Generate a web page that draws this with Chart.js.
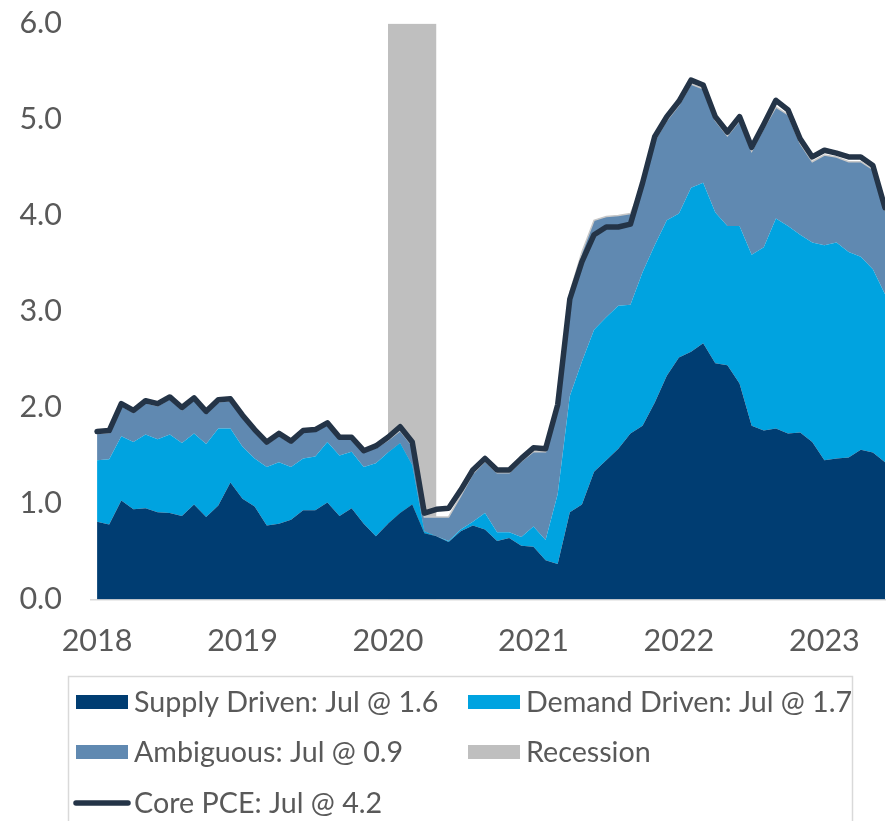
<!DOCTYPE html>
<html><head><meta charset="utf-8">
<script src="https://cdn.jsdelivr.net/npm/chart.js@4.4.1/dist/chart.umd.min.js"></script>
<style>html,body{margin:0;padding:0;background:#fff;}canvas{display:block}</style>
</head><body>
<canvas id="c" width="888" height="821"></canvas>
<script>
const months = [
 '2018-01','2018-02','2018-03','2018-04','2018-05','2018-06','2018-07','2018-08','2018-09','2018-10','2018-11','2018-12',
 '2019-01','2019-02','2019-03','2019-04','2019-05','2019-06','2019-07','2019-08','2019-09','2019-10','2019-11','2019-12',
 '2020-01','2020-02','2020-03','2020-04','2020-05','2020-06','2020-07','2020-08','2020-09','2020-10','2020-11','2020-12',
 '2021-01','2021-02','2021-03','2021-04','2021-05','2021-06','2021-07','2021-08','2021-09','2021-10','2021-11','2021-12',
 '2022-01','2022-02','2022-03','2022-04','2022-05','2022-06','2022-07','2022-08','2022-09','2022-10','2022-11','2022-12',
 '2023-01','2023-02','2023-03','2023-04','2023-05','2023-06'];
const yearTickLabels = ['2018','2019','2020','2021','2022','2023'];
const yTickLabels = ['0.0','1.0','2.0','3.0','4.0','5.0','6.0'];

const supply = [0.81,0.78,1.03,0.94,0.95,0.91,0.90,0.87,0.99,0.86,0.98,1.22,
 1.05,0.97,0.77,0.79,0.83,0.93,0.93,1.01,0.87,0.95,0.79,0.66,
 0.79,0.90,0.99,0.69,0.66,0.60,0.71,0.77,0.73,0.61,0.64,0.56,
 0.55,0.41,0.37,0.91,0.99,1.33,1.45,1.57,1.73,1.81,2.05,2.33,
 2.52,2.58,2.67,2.46,2.44,2.25,1.81,1.76,1.78,1.73,1.74,1.64,
 1.45,1.47,1.48,1.56,1.53,1.43];
const demand = [0.64,0.68,0.67,0.70,0.77,0.76,0.82,0.76,0.74,0.76,0.80,0.56,
 0.54,0.50,0.61,0.64,0.55,0.54,0.56,0.63,0.63,0.59,0.59,0.76,
 0.74,0.73,0.41,0.02,0.00,0.01,0.02,0.04,0.17,0.09,0.06,0.09,
 0.21,0.21,0.73,1.21,1.49,1.48,1.49,1.49,1.34,1.60,1.64,1.62,
 1.50,1.71,1.67,1.57,1.45,1.64,1.78,1.91,2.19,2.16,2.06,2.08,
 2.24,2.25,2.14,2.01,1.91,1.75];
const ambiguous = [0.28,0.28,0.32,0.31,0.33,0.35,0.37,0.35,0.35,0.32,0.28,0.29,
 0.31,0.28,0.24,0.28,0.25,0.28,0.27,0.18,0.18,0.14,0.16,0.16,
 0.13,0.13,0.20,0.15,0.20,0.25,0.35,0.50,0.54,0.62,0.62,0.79,
 0.78,0.92,0.90,1.08,1.14,1.14,1.05,0.94,0.95,0.91,1.09,1.04,
 1.13,1.08,0.98,0.96,0.94,1.10,1.08,1.24,1.16,1.16,0.95,0.84,
 0.94,0.89,0.94,0.99,1.04,0.87];
const corePCE = [1.75,1.76,2.04,1.97,2.07,2.04,2.11,2.00,2.10,1.96,2.08,2.09,
 1.92,1.77,1.64,1.73,1.65,1.76,1.77,1.84,1.69,1.69,1.55,1.60,
 1.69,1.80,1.64,0.90,0.94,0.95,1.14,1.35,1.47,1.35,1.35,1.47,
 1.58,1.57,2.03,3.13,3.52,3.80,3.88,3.88,3.91,4.34,4.82,5.03,
 5.19,5.41,5.36,5.03,4.87,5.03,4.71,4.95,5.20,5.10,4.80,4.61,
 4.68,4.65,4.61,4.61,4.52,4.08];
const recessionSpan = ['2020-01','2020-05'];
const recessionLevel = 6;

const seriesLabels = ['Supply Driven: Jul @ 1.6','Demand Driven: Jul @ 1.7','Ambiguous: Jul @ 0.9','Core PCE: Jul @ 4.2','Recession'];
const colors = {supply:'#003D72', demand:'#00A3E0', ambiguous:'#6089B1', pce:'#243447', recession:'#BFBFBF'};

const pts = arr => arr.map((v,i) => ({x:i, y:v}));
const yearTickValues = yearTickLabels.map(y => months.indexOf(y + '-01'));
const FONT = 'Lato';

const boxLegend = {
  id: 'boxLegend',
  afterDraw(chart) {
    const ctx = chart.ctx;
    const ds = chart.data.datasets;
    ctx.save();
    ctx.strokeStyle = '#D9D9D9';
    ctx.lineWidth = 1.5;
    ctx.strokeRect(68.5, 676.5, 784, 170);
    ctx.font = '28.7px ' + FONT;
    ctx.textBaseline = 'middle';
    ctx.textAlign = 'left';
    const slots = [[0,76,702],[1,468,702],[2,76,752],[4,468,752],[3,76,803]];
    slots.forEach(([di,x,y]) => {
      const d = ds[di];
      if (d.type === 'line' && d.fill === false) {
        ctx.strokeStyle = d.borderColor;
        ctx.lineWidth = 5.5;
        ctx.lineCap = 'round';
        ctx.beginPath(); ctx.moveTo(76, y); ctx.lineTo(128, y); ctx.stroke();
      } else {
        ctx.fillStyle = d.backgroundColor;
        ctx.fillRect(x, y - 7, 52, 14);
      }
      ctx.fillStyle = '#595959';
      ctx.fillText(d.label, x + 58, y + 1);
    });
    ctx.restore();
  }
};

new Chart(document.getElementById('c'), {
  type: 'line',
  data: {
    datasets: [
      {label: seriesLabels[0], type:'line', data: pts(supply), backgroundColor: colors.supply, borderColor: colors.supply, borderWidth: 0, fill: 'origin', pointRadius: 0, stack: 'parts', order: 1},
      {label: seriesLabels[1], type:'line', data: pts(demand), backgroundColor: colors.demand, borderColor: colors.demand, borderWidth: 0, fill: '-1', pointRadius: 0, stack: 'parts', order: 1},
      {label: seriesLabels[2], type:'line', data: pts(ambiguous), backgroundColor: colors.ambiguous, borderColor: '#C8C8C8', borderWidth: 1.5, fill: '-1', pointRadius: 0, stack: 'parts', order: 1},
      {label: seriesLabels[3], type:'line', data: pts(corePCE), borderColor: colors.pce, backgroundColor: colors.pce, borderWidth: 5.5, fill: false, pointRadius: 0, stack: 'pce', order: 0, borderCapStyle: 'round', borderJoinStyle: 'round'},
      {label: seriesLabels[4], type:'line', data: recessionSpan.map(m => ({x: months.indexOf(m), y: recessionLevel})), backgroundColor: colors.recession, borderColor: colors.recession, borderWidth: 0, fill: 'origin', pointRadius: 0, stack: 'rec', order: 5}
    ]
  },
  options: {
    responsive: false,
    animation: false,
    devicePixelRatio: 1,
    layout: {padding: {left: 0, right: 3, top: 23.5, bottom: 161.5}},
    plugins: {legend: {display: false}, tooltip: {enabled: false}},
    elements: {line: {tension: 0}},
    scales: {
      x: {
        type: 'linear', min: -0.5, max: months.length - 1,
        grid: {display: false, drawTicks: false},
        border: {display: true, color: '#D9D9D9', width: 1.5},
        afterBuildTicks: s => { s.ticks = yearTickValues.map(v => ({value: v})); },
        afterFit: s => { s.height = 60; s.paddingLeft = 0; s.paddingRight = 0; },
        ticks: {autoSkip: false, maxRotation: 0, padding: 23, color: '#595959', font: {family: FONT, size: 30.5},
          callback: v => yearTickLabels[yearTickValues.indexOf(v)]}
      },
      y: {
        stacked: true, min: 0, max: 6,
        grid: {display: false, drawTicks: false},
        border: {display: false},
        afterFit: s => { s.width = 91; s.paddingTop = 0; s.paddingBottom = 0; },
        ticks: {stepSize: 1, padding: 29, color: '#595959', font: {family: FONT, size: 30.5},
          callback: v => yTickLabels[Math.round(v)]}
      }
    }
  },
  plugins: [boxLegend]
});
</script>
</body></html>
